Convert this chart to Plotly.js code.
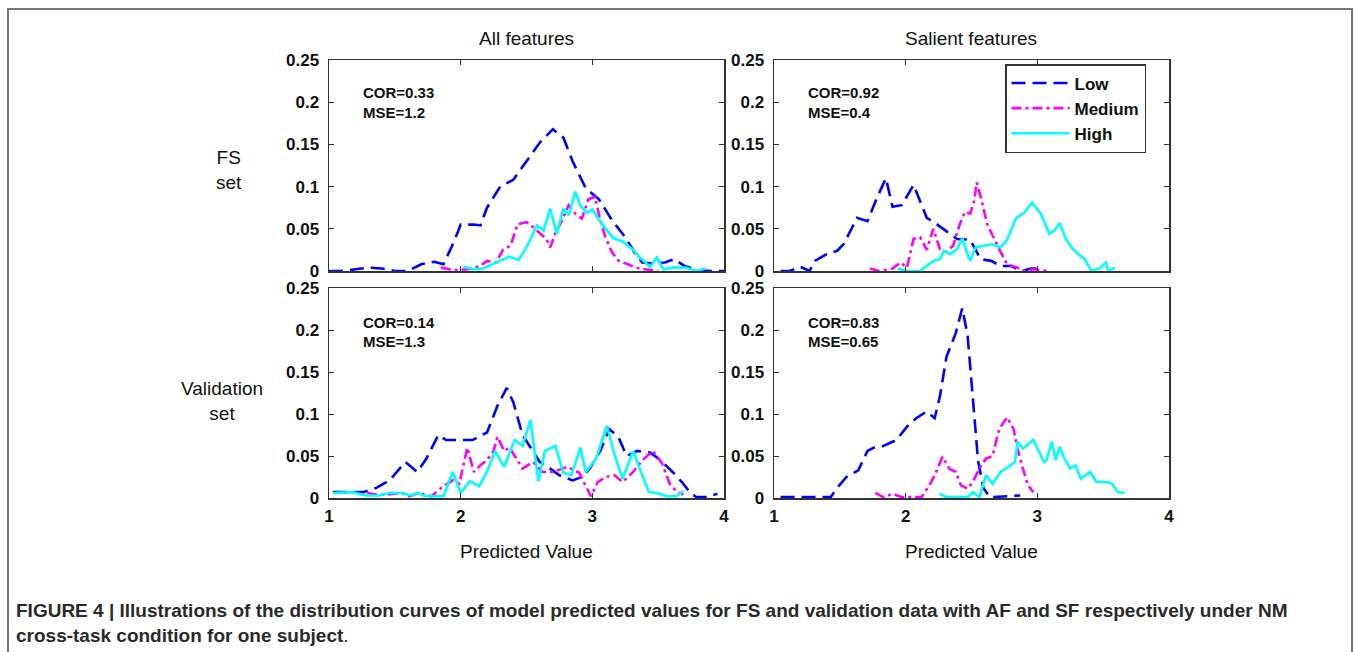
<!DOCTYPE html>
<html>
<head>
<meta charset="utf-8">
<script src="https://cdn.plot.ly/plotly-3.0.1.min.js"></script>
<style>html,body{margin:0;padding:0;background:#fff;}#chart{width:1354px;height:652px;}</style>
</head>
<body>
<div id="chart"></div>
<script>
// ---- Data ----
const seriesNames = ['Low', 'Medium', 'High'];
const columnTitles = ['All features', 'Salient features'];
const rowTitles = ['FS<br>set', 'Validation<br>set'];
const xTickVals = [1, 2, 3, 4];
const yTickVals = [0, 0.05, 0.1, 0.15, 0.2, 0.25];
const corText = ['COR=0.33', 'COR=0.92', 'COR=0.14', 'COR=0.83'];
const mseText = ['MSE=1.2', 'MSE=0.4', 'MSE=1.3', 'MSE=0.65'];

// FS set, All features
const fsAfLowX = [1.0,1.1,1.2,1.3,1.4,1.5,1.6,1.7,1.8,1.87,1.95,2.0,2.1,2.15,2.2,2.3,2.4,2.5,2.6,2.7,2.78,2.85,2.95,3.05,3.15,3.25,3.32,3.38,3.45,3.55,3.62,3.7,3.8,3.9,4.0];
const fsAfLowY = [0,0,0.002,0.004,0.003,0,0,0.008,0.011,0.008,0.035,0.055,0.055,0.054,0.075,0.1,0.108,0.13,0.152,0.168,0.158,0.13,0.098,0.085,0.06,0.04,0.022,0.01,0.009,0.01,0.014,0.006,0.001,0,0];
const fsAfMedX = [1.85,1.95,2.05,2.15,2.2,2.27,2.32,2.38,2.43,2.5,2.55,2.6,2.65,2.68,2.72,2.77,2.82,2.87,2.92,2.97,3.02,3.06,3.1,3.15,3.2,3.27,3.33,3.4,3.5];
const fsAfMedY = [0.004,0.001,0.002,0.006,0.012,0.01,0.025,0.03,0.055,0.058,0.052,0.045,0.038,0.028,0.045,0.06,0.078,0.068,0.062,0.085,0.088,0.06,0.04,0.022,0.012,0.008,0.004,0.002,0];
const fsAfHighX = [2.02,2.1,2.17,2.3,2.37,2.44,2.5,2.58,2.63,2.68,2.73,2.78,2.82,2.87,2.91,2.96,3.0,3.08,3.16,3.23,3.31,3.36,3.44,3.49,3.54,3.61,3.71,3.79,3.86];
const fsAfHighY = [0.005,0.002,0.003,0.012,0.017,0.013,0.028,0.054,0.048,0.074,0.044,0.074,0.066,0.094,0.077,0.069,0.073,0.054,0.039,0.035,0.025,0.016,0.005,0.016,0.002,0.004,0.004,0,0.003];

// FS set, Salient features
const fsSfLowX = [1.05,1.12,1.2,1.27,1.31,1.4,1.48,1.53,1.63,1.71,1.78,1.85,1.9,1.97,2.06,2.11,2.16,2.24,2.31,2.39,2.49,2.57,2.65,2.72,2.8,2.88,2.95,3.03];
const fsSfLowY = [0,0,0.005,0,0.012,0.02,0.024,0.032,0.063,0.059,0.086,0.11,0.076,0.078,0.102,0.083,0.063,0.055,0.047,0.038,0.037,0.014,0.012,0.006,0.006,0,0.003,0.003];
const fsSfMedX = [1.73,1.8,1.9,1.96,2.01,2.06,2.11,2.16,2.21,2.26,2.31,2.36,2.41,2.45,2.49,2.52,2.54,2.57,2.62,2.67,2.72,2.77,2.85,2.9,2.97,3.08];
const fsSfMedY = [0.003,0,0.003,0.01,0.004,0.038,0.04,0.025,0.05,0.026,0.023,0.03,0.055,0.07,0.068,0.083,0.105,0.088,0.055,0.038,0.023,0.008,0.004,0,0.002,0];
const fsSfHighX = [1.94,2.01,2.11,2.16,2.21,2.26,2.29,2.34,2.39,2.43,2.46,2.49,2.53,2.59,2.66,2.72,2.77,2.84,2.9,2.96,3.03,3.09,3.13,3.17,3.21,3.26,3.31,3.36,3.41,3.48,3.52,3.54,3.59];
const fsSfHighY = [0.003,0,0,0.006,0.012,0.014,0.024,0.02,0.026,0.039,0.024,0.012,0.028,0.03,0.032,0.028,0.037,0.063,0.069,0.081,0.067,0.044,0.048,0.057,0.04,0.028,0.02,0.014,0,0.004,0.01,0,0.004];

// Validation set, All features
const vaAfLowX = [1.03,1.26,1.36,1.46,1.58,1.67,1.74,1.83,1.89,1.99,2.09,2.2,2.28,2.35,2.4,2.47,2.53,2.6,2.68,2.75,2.85,2.92,2.98,3.06,3.13,3.2,3.26,3.34,3.44,3.51,3.61,3.68,3.74,3.79,3.86,3.95];
const vaAfLowY = [0.007,0.007,0.012,0.021,0.043,0.031,0.047,0.075,0.069,0.069,0.069,0.078,0.11,0.131,0.114,0.075,0.06,0.043,0.035,0.027,0.021,0.025,0.035,0.056,0.082,0.072,0.05,0.056,0.054,0.046,0.031,0.019,0.007,0.001,0.001,0.005];
const vaAfMedX = [1.29,1.36,1.43,1.55,1.61,1.68,1.78,1.85,1.94,1.99,2.05,2.1,2.15,2.2,2.25,2.28,2.33,2.37,2.42,2.47,2.55,2.62,2.7,2.81,2.9,2.95,2.99,3.04,3.1,3.17,3.23,3.31,3.38,3.46,3.53,3.59,3.64,3.69];
const vaAfMedY = [0.006,0.004,0.004,0.006,0.002,0.006,0.002,0.012,0.021,0.017,0.06,0.031,0.039,0.045,0.056,0.073,0.056,0.06,0.048,0.035,0.043,0.031,0.031,0.037,0.03,0.014,0.002,0.019,0.025,0.027,0.019,0.031,0.045,0.056,0.041,0.016,0.008,0.004];
const vaAfHighX = [1.03,1.18,1.28,1.38,1.46,1.56,1.62,1.68,1.73,1.87,1.94,2.0,2.07,2.14,2.2,2.26,2.33,2.41,2.47,2.53,2.59,2.64,2.72,2.78,2.84,2.91,2.95,3.03,3.11,3.17,3.23,3.31,3.36,3.43,3.49,3.56,3.64,3.69];
const vaAfHighY = [0.006,0.007,0.003,0.003,0.006,0.006,0.003,0.006,0.002,0.002,0.031,0.006,0.02,0.014,0.031,0.056,0.037,0.069,0.062,0.093,0.02,0.056,0.062,0.03,0.027,0.06,0.031,0.047,0.086,0.051,0.023,0.056,0.035,0.007,0.006,0.002,0.002,0.008];

// Validation set, Salient features
const vaSfLowX = [1.05,1.43,1.48,1.55,1.64,1.71,1.76,1.83,1.93,2.01,2.08,2.16,2.22,2.26,2.31,2.38,2.43,2.47,2.5,2.53,2.55,2.59,2.64,2.87];
const vaSfLowY = [0.001,0.001,0.012,0.025,0.033,0.056,0.06,0.062,0.069,0.085,0.095,0.103,0.095,0.121,0.168,0.196,0.226,0.194,0.138,0.086,0.044,0.012,0.001,0.003];
const vaSfMedX = [1.77,1.83,1.9,1.97,2.12,2.18,2.22,2.28,2.33,2.38,2.42,2.47,2.51,2.56,2.61,2.66,2.71,2.77,2.82,2.85,2.89,2.93,2.97];
const vaSfMedY = [0.006,0.001,0.005,0.001,0.001,0.015,0.027,0.049,0.035,0.031,0.015,0.011,0.019,0.035,0.047,0.05,0.082,0.096,0.082,0.058,0.035,0.015,0.007];
const vaSfHighX = [2.26,2.31,2.47,2.51,2.56,2.61,2.66,2.72,2.78,2.83,2.85,2.89,2.97,3.05,3.07,3.11,3.14,3.17,3.2,3.25,3.29,3.33,3.4,3.45,3.53,3.57,3.61,3.66];
const vaSfHighY = [0.005,0.001,0.001,0.007,0.001,0.027,0.017,0.031,0.037,0.043,0.067,0.059,0.069,0.043,0.045,0.067,0.045,0.061,0.049,0.035,0.039,0.023,0.031,0.019,0.019,0.017,0.007,0.006];

const captionLine1 = 'FIGURE 4 | Illustrations of the distribution curves of model predicted values for FS and validation data with AF and SF respectively under NM';
const captionLine2 = 'cross-task condition for one subject';

// ---- Styling ----
const W = 1354, H = 652;
const styles = {
  Low:    {color: '#0000ff', dash: '14px,7px'},
  Medium: {color: '#ff00ff', dash: '10px,4px,3px,4px'},
  High:   {color: '#00ffff', dash: 'solid'}
};
const px = v => v / W;
const py = v => 1 - v / H;

const panels = [
  {xa: 'x',  ya: 'y',  data: [[fsAfLowX, fsAfLowY], [fsAfMedX, fsAfMedY], [fsAfHighX, fsAfHighY]]},
  {xa: 'x2', ya: 'y2', data: [[fsSfLowX, fsSfLowY], [fsSfMedX, fsSfMedY], [fsSfHighX, fsSfHighY]]},
  {xa: 'x3', ya: 'y3', data: [[vaAfLowX, vaAfLowY], [vaAfMedX, vaAfMedY], [vaAfHighX, vaAfHighY]]},
  {xa: 'x4', ya: 'y4', data: [[vaSfLowX, vaSfLowY], [vaSfMedX, vaSfMedY], [vaSfHighX, vaSfHighY]]}
];

const traces = [];
panels.forEach((p, pi) => {
  p.data.forEach((d, si) => {
    const name = seriesNames[si];
    traces.push({
      type: 'scatter', mode: 'lines', x: d[0], y: d[1], name: name,
      xaxis: p.xa, yaxis: p.ya, showlegend: pi === 1,
      line: {color: styles[name].color, dash: styles[name].dash, width: 2.6},
      hoverinfo: 'skip'
    });
  });
});

const xDomL = [px(329), px(724)], xDomR = [px(774), px(1169)];
const yDomT = [py(271), py(60)], yDomB = [py(498), py(288)];
const tickFont = {family: 'Liberation Sans, Arial, sans-serif', size: 17, color: '#111', weight: 'bold'};
function xAx(dom, anchor, labels) {
  return {domain: dom, anchor: anchor, range: [1, 4], tickvals: xTickVals, showticklabels: labels,
    ticks: 'inside', ticklen: 5, tickcolor: '#333', showline: true, linecolor: '#333', linewidth: 1.5,
    mirror: 'ticks', showgrid: false, zeroline: false, tickfont: tickFont, fixedrange: true, ticklabelstandoff: 2};
}
function yAx(dom, anchor) {
  return {domain: dom, anchor: anchor, range: [0, 0.25], tickvals: yTickVals,
    ticks: 'inside', ticklen: 5, tickcolor: '#333', showline: true, linecolor: '#333', linewidth: 1.5,
    mirror: 'ticks', showgrid: false, zeroline: false, tickfont: tickFont, fixedrange: true, ticklabelstandoff: 5};
}

const txt = {family: 'Liberation Sans, Arial, sans-serif', size: 19, color: '#111'};
const boldTxt = {family: 'Liberation Sans, Arial, sans-serif', size: 15, color: '#111', weight: 'bold'};
const annotations = [];
const colCenters = [526.5, 971.5];
columnTitles.forEach((t, i) => annotations.push({text: t, x: px(colCenters[i]), y: py(38), xref: 'paper', yref: 'paper', showarrow: false, font: txt, xanchor: 'center', yanchor: 'middle'}));
colCenters.forEach(c => annotations.push({text: 'Predicted Value', x: px(c), y: py(551), xref: 'paper', yref: 'paper', showarrow: false, font: txt, xanchor: 'center', yanchor: 'middle'}));
annotations.push({text: rowTitles[0], x: px(229), y: py(170), xref: 'paper', yref: 'paper', showarrow: false, font: txt, xanchor: 'center', yanchor: 'middle', align: 'center'});
annotations.push({text: rowTitles[1], x: px(222), y: py(401), xref: 'paper', yref: 'paper', showarrow: false, font: txt, xanchor: 'center', yanchor: 'middle', align: 'center'});
const statPos = [[361, 93], [806, 93], [361, 322], [806, 322]];
statPos.forEach((s, i) => {
  annotations.push({text: corText[i], x: px(s[0]), y: py(s[1]), xref: 'paper', yref: 'paper', showarrow: false, font: boldTxt, xanchor: 'left', yanchor: 'middle'});
  annotations.push({text: mseText[i], x: px(s[0]), y: py(s[1] + 19), xref: 'paper', yref: 'paper', showarrow: false, font: boldTxt, xanchor: 'left', yanchor: 'middle'});
});
annotations.push({
  text: '<b>' + captionLine1 + '</b><br><b>' + captionLine2 + '</b>.',
  x: px(14), y: py(598), xref: 'paper', yref: 'paper', showarrow: false, xanchor: 'left', yanchor: 'top', align: 'left',
  font: {family: 'Liberation Sans, Arial, sans-serif', size: 19, color: '#2a2a2a'}
});

const layout = {
  width: W, height: H, margin: {l: 0, r: 0, t: 0, b: 0},
  paper_bgcolor: '#fff', plot_bgcolor: '#fff',
  xaxis: xAx(xDomL, 'y', false),  yaxis: yAx(yDomT, 'x'),
  xaxis2: xAx(xDomR, 'y2', false), yaxis2: yAx(yDomT, 'x2'),
  xaxis3: xAx(xDomL, 'y3', true),  yaxis3: yAx(yDomB, 'x3'),
  xaxis4: xAx(xDomR, 'y4', true),  yaxis4: yAx(yDomB, 'x4'),
  showlegend: true,
  legend: {x: px(1005), y: py(64), xanchor: 'left', yanchor: 'top', bgcolor: '#fff', bordercolor: '#333', borderwidth: 1.5,
    font: {family: 'Liberation Sans, Arial, sans-serif', size: 17, color: '#111', weight: 'bold'}, itemwidth: 58, tracegroupgap: 0},
  annotations: annotations,
  shapes: [{type: 'rect', xref: 'paper', yref: 'paper', x0: px(8), x1: px(1352), y0: -0.2, y1: py(9), line: {color: '#777', width: 2}, fillcolor: 'rgba(0,0,0,0)', layer: 'below'}]
};

Plotly.newPlot('chart', traces, layout, {staticPlot: true, displayModeBar: false});
</script>
</body>
</html>
